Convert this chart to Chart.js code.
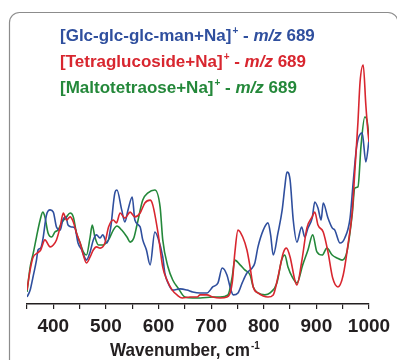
<!DOCTYPE html>
<html>
<head>
<meta charset="utf-8">
<script src="https://cdn.jsdelivr.net/npm/chart.js@4.4.0/dist/chart.umd.min.js"></script>
<style>
  html, body { margin: 0; padding: 0; background: #fff; }
  #wrap { width: 397px; height: 360px; }
</style>
</head>
<body>
<div id="wrap"><canvas id="spec" width="397" height="360"></canvas></div>
<script>
// Raman spectra, relative intensity vs wavenumber (cm-1)
const blueWn = [350, 356, 361, 368, 371, 376, 380, 387, 394, 400, 406, 413, 418, 424, 428, 435, 441, 447, 454, 460, 463, 470, 476, 482, 489, 494, 502, 509, 517, 521, 530, 536, 542, 550, 555, 565, 570, 577, 584, 593, 599, 608, 612, 618, 627, 641, 654, 665, 679, 692, 703, 713, 721, 730, 736, 742, 751, 759, 768, 778, 783, 789, 799, 808, 813, 818, 827, 835, 840, 844, 850, 856, 863, 872, 878, 884, 892, 897, 903, 909, 913, 922, 930, 935, 945, 954, 964, 970, 977, 987, 994, 1000];
const blueInt = [2.9, 5.8, 10.8, 18.3, 22.5, 23.3, 26.7, 37.1, 39.2, 38.3, 32.1, 30.8, 35.0, 36.3, 32.9, 32.1, 31.7, 25.4, 22.5, 19.2, 18.3, 21.7, 26.7, 28.8, 27.5, 28.8, 25.4, 31.7, 46.3, 47.5, 39.2, 34.2, 39.2, 44.6, 35.0, 32.1, 26.7, 22.5, 16.3, 30.0, 27.5, 19.6, 12.9, 8.8, 5.8, 6.3, 5.8, 5.0, 4.6, 4.6, 7.1, 8.8, 15.0, 12.1, 7.1, 3.8, 4.6, 8.8, 12.9, 15.0, 17.1, 23.8, 30.8, 33.8, 28.8, 20.4, 29.6, 39.2, 48.8, 55.0, 51.7, 35.0, 25.8, 32.1, 27.9, 31.7, 35.8, 42.5, 40.0, 35.0, 42.1, 35.8, 31.7, 30.8, 25.4, 27.5, 35.8, 50.8, 66.3, 71.3, 59.2, 68.3];

const redWn = [350, 356, 361, 370, 376, 384, 394, 400, 406, 413, 419, 425, 432, 438, 444, 451, 457, 463, 470, 476, 482, 489, 498, 505, 514, 520, 527, 536, 546, 555, 565, 574, 584, 589, 599, 608, 616, 626, 635, 645, 660, 673, 679, 692, 703, 717, 730, 740, 745, 751, 760, 768, 774, 780, 789, 799, 808, 818, 827, 837, 843, 850, 859, 863, 872, 882, 892, 897, 903, 913, 922, 931, 941, 951, 960, 968, 973, 979, 983, 989, 994, 998, 1000];
const redInt = [5.8, 14.2, 19.2, 21.3, 22.5, 26.7, 23.8, 24.6, 26.7, 32.1, 37.9, 35.0, 36.3, 34.2, 29.6, 25.4, 20.4, 17.1, 19.6, 22.5, 23.8, 23.3, 25.4, 32.1, 35.0, 33.8, 37.9, 35.8, 38.3, 36.3, 37.9, 42.1, 43.3, 41.3, 29.6, 15.4, 10.0, 5.8, 3.8, 2.5, 2.9, 2.9, 3.8, 3.8, 2.9, 2.5, 2.9, 8.8, 21.3, 30.8, 27.9, 22.5, 15.4, 7.1, 4.6, 3.3, 2.9, 3.8, 11.3, 21.3, 23.3, 19.6, 10.0, 7.9, 17.5, 31.7, 36.3, 38.3, 32.9, 30.0, 21.7, 10.8, 7.1, 12.1, 24.6, 38.3, 55.0, 75.8, 92.5, 99.6, 82.9, 71.7, 67.5];

const greenWn = [350, 356, 362, 368, 375, 380, 384, 390, 397, 403, 409, 416, 425, 432, 438, 444, 451, 457, 463, 470, 474, 479, 486, 495, 505, 514, 521, 530, 540, 546, 553, 559, 570, 580, 593, 603, 608, 618, 627, 637, 650, 665, 679, 703, 717, 732, 740, 745, 755, 764, 774, 780, 789, 802, 812, 825, 834, 840, 846, 854, 863, 874, 884, 893, 901, 911, 920, 930, 939, 949, 958, 968, 973, 979, 985, 992, 996, 1000];
const greenInt = [5.0, 15.4, 21.3, 27.9, 35.0, 38.3, 36.3, 29.6, 27.9, 30.0, 30.8, 33.8, 36.3, 37.9, 36.3, 29.6, 25.4, 21.7, 20.4, 27.9, 32.9, 27.9, 24.6, 24.6, 26.7, 30.8, 32.5, 30.8, 27.9, 25.8, 27.5, 32.9, 43.3, 46.3, 47.5, 40.4, 26.7, 15.4, 10.0, 6.7, 2.9, 2.5, 2.5, 2.9, 2.9, 3.8, 11.3, 18.3, 16.3, 14.2, 12.1, 7.1, 4.6, 3.8, 4.6, 8.8, 18.3, 20.4, 15.4, 11.3, 8.8, 16.3, 22.5, 28.8, 21.7, 20.4, 23.3, 20.4, 19.2, 18.3, 21.7, 37.1, 48.3, 48.8, 66.3, 77.9, 76.7, 69.6];

const BLUE = '#2f4f9e';
const RED = '#d8262f';
const GREEN = '#24883a';

const seriesLabels = [
  { name: '[Glc-glc-glc-man+Na]', color: BLUE },
  { name: '[Tetraglucoside+Na]', color: RED },
  { name: '[Maltotetraose+Na]', color: GREEN }
];
const mzText = 'm/z';
const mzValue = ' 689';
const axisTitle = 'Wavenumber, cm';
const axisTitleSup = '-1';

const toPoints = (wn, vals) => wn.map((x, i) => ({ x, y: vals[i] }));

// rounded frame around the panel
const framePlugin = {
  id: 'frame',
  beforeDraw(chart) {
    const ctx = chart.ctx;
    ctx.save();
    ctx.fillStyle = '#fff';
    ctx.fillRect(0, 0, chart.width, chart.height);
    ctx.strokeStyle = '#8c8c8c';
    ctx.lineWidth = 1.2;
    const l = 9.5, t = 12.5, r = 398, b = 380, rad = 10;
    ctx.beginPath();
    ctx.moveTo(l, b);
    ctx.lineTo(l, t + rad);
    ctx.arcTo(l, t, l + rad, t, rad);
    ctx.lineTo(r - rad, t);
    ctx.arcTo(r, t, r, t + rad, rad);
    ctx.lineTo(r, b);
    ctx.stroke();
    ctx.restore();
  }
};

// ion labels in the top left and the x axis title with superscript
const textPlugin = {
  id: 'texts',
  afterDraw(chart) {
    const ctx = chart.ctx;
    ctx.save();
    ctx.textBaseline = 'alphabetic';
    ctx.textAlign = 'left';
    const baselines = [41, 67, 93];
    seriesLabels.forEach((s, i) => {
      let x = 60;
      const y = baselines[i];
      ctx.fillStyle = s.color;
      ctx.font = 'bold 17px "Liberation Sans", Arial, sans-serif';
      ctx.fillText(s.name, x, y);
      x += ctx.measureText(s.name).width + 1;
      ctx.font = 'bold 10px "Liberation Sans", Arial, sans-serif';
      ctx.fillText('+', x, y - 7);
      x += ctx.measureText('+').width;
      ctx.font = 'bold 17px "Liberation Sans", Arial, sans-serif';
      ctx.fillText(' - ', x, y);
      x += ctx.measureText(' - ').width;
      ctx.font = 'italic bold 17px "Liberation Sans", Arial, sans-serif';
      ctx.fillText(mzText, x, y);
      x += ctx.measureText(mzText).width;
      ctx.font = 'bold 17px "Liberation Sans", Arial, sans-serif';
      ctx.fillText(mzValue, x, y);
    });

    ctx.fillStyle = '#231f20';
    ctx.translate(110, 356);
    ctx.scale(0.9, 1);
    ctx.font = 'bold 19px "Liberation Sans", Arial, sans-serif';
    ctx.fillText(axisTitle, 0, 0);
    const w = ctx.measureText(axisTitle).width;
    ctx.font = 'bold 11px "Liberation Sans", Arial, sans-serif';
    ctx.fillText(axisTitleSup, w + 1, -7);
    ctx.restore();
  }
};

new Chart(document.getElementById('spec'), {
  type: 'line',
  data: {
    datasets: [
      { data: toPoints(redWn, redInt), borderColor: RED, order: 0 },
      { data: toPoints(blueWn, blueInt), borderColor: BLUE, order: 1 },
      { data: toPoints(greenWn, greenInt), borderColor: GREEN, order: 2 }
    ]
  },
  options: {
    responsive: false,
    animation: false,
    devicePixelRatio: 1,
    datasets: {
      line: {
        borderWidth: 1.6,
        pointRadius: 0,
        fill: false,
        cubicInterpolationMode: 'monotone'
      }
    },
    layout: { padding: { left: 27, right: 28, top: 40, bottom: 0 } },
    plugins: {
      legend: { display: false },
      tooltip: { enabled: false }
    },
    scales: {
      x: {
        type: 'linear',
        min: 350,
        max: 1000,
        afterFit: scale => { scale.height = 56; },
        ticks: {
          stepSize: 50,
          autoSkip: false,
          maxRotation: 0,
          padding: 6,
          color: '#231f20',
          font: { family: '"Liberation Sans", Arial, sans-serif', size: 19, weight: 'bold' },
          callback: v => (v % 100 === 0 ? String(v) : '')
        },
        grid: {
          drawOnChartArea: false,
          drawTicks: true,
          tickLength: 5,
          color: '#231f20',
          lineWidth: 1.2
        },
        border: { display: true, color: '#231f20', width: 1.5 }
      },
      y: {
        display: false,
        min: 0,
        max: 110
      }
    }
  },
  plugins: [framePlugin, textPlugin]
});
</script>
</body>
</html>
